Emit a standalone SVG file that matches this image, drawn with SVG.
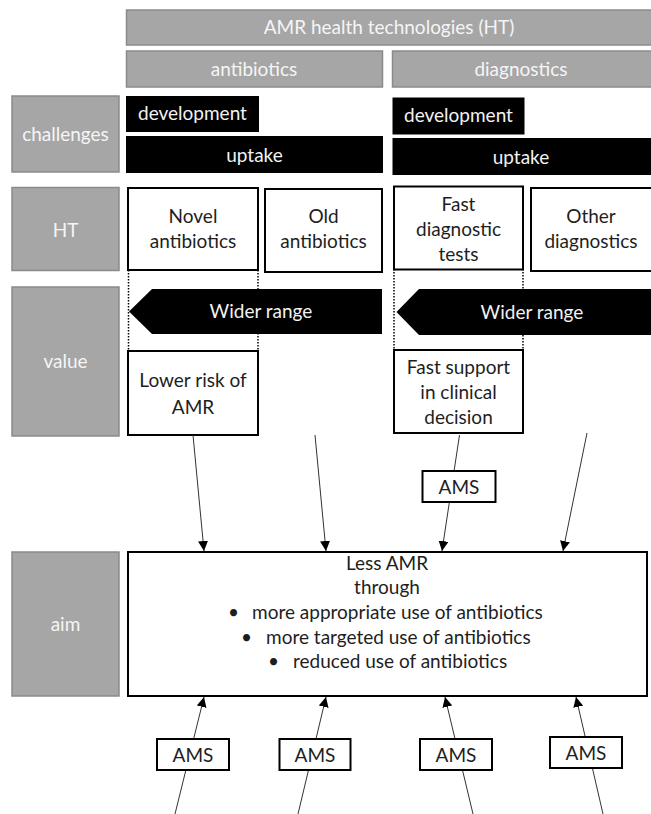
<svg xmlns="http://www.w3.org/2000/svg" width="651" height="814" viewBox="0 0 651 814">
  <defs>
    <style>
      text { font-family: Lato, "Open Sans", "Liberation Sans", sans-serif; font-size: 19px; text-anchor: middle; }
      .lbl { fill: #a6a6a6; stroke: #8a8a8a; stroke-width: 1.5; }
      .lbl-t { fill: #f5f5f5; }
      .blk { fill: #000; }
      .blk-t { fill: #f2f2f2; }
      .box { fill: #fff; stroke: #000; stroke-width: 2; }
      .box-t { fill: #1e1e1e; }
      .dot { stroke: #000; stroke-width: 1.5; stroke-dasharray: 1.5 1.5; fill: none; }
      .link { stroke: #333; stroke-width: 1; fill: none; marker-end: url(#head); }
    </style>
    <marker id="head" viewBox="0 0 10 10" refX="10" refY="5" markerWidth="10" markerHeight="10" markerUnits="userSpaceOnUse" orient="auto">
      <path d="M0,0 L10,5 L0,10 Z" fill="#000"/>
    </marker>
  </defs>

  <rect width="651" height="814" fill="#fff"/>

  <!-- column headers -->
  <g id="header-ht">
    <rect class="lbl" x="126.5" y="10" width="526" height="35"/>
    <text class="lbl-t" x="389" y="34">AMR health technologies (HT)</text>
  </g>
  <g id="header-antibiotics">
    <rect class="lbl" x="126.5" y="51" width="256" height="36"/>
    <text class="lbl-t" x="254" y="76">antibiotics</text>
  </g>
  <g id="header-diagnostics">
    <rect class="lbl" x="392.5" y="51" width="260" height="36"/>
    <text class="lbl-t" x="521" y="76">diagnostics</text>
  </g>

  <!-- row labels -->
  <g id="row-challenges">
    <rect class="lbl" x="12" y="96" width="107" height="76"/>
    <text class="lbl-t" x="65.5" y="141">challenges</text>
  </g>
  <g id="row-ht">
    <rect class="lbl" x="12" y="187.5" width="107" height="83"/>
    <text class="lbl-t" x="65.5" y="237">HT</text>
  </g>
  <g id="row-value">
    <rect class="lbl" x="12" y="287" width="107" height="149"/>
    <text class="lbl-t" x="65.5" y="368">value</text>
  </g>
  <g id="row-aim">
    <rect class="lbl" x="12" y="552" width="107" height="144"/>
    <text class="lbl-t" x="65.5" y="631">aim</text>
  </g>

  <!-- challenges -->
  <g id="ab-development">
    <rect class="blk" x="126" y="96" width="133" height="36"/>
    <text class="blk-t" x="192.5" y="120">development</text>
  </g>
  <g id="ab-uptake">
    <rect class="blk" x="126" y="136" width="257" height="37"/>
    <text class="blk-t" x="254.5" y="162">uptake</text>
  </g>
  <g id="dx-development">
    <rect class="blk" x="392.5" y="97.5" width="132" height="37"/>
    <text class="blk-t" x="458.5" y="122">development</text>
  </g>
  <g id="dx-uptake">
    <rect class="blk" x="392.5" y="138" width="259" height="37"/>
    <text class="blk-t" x="521" y="164">uptake</text>
  </g>

  <!-- health technologies -->
  <g id="novel-antibiotics">
    <rect class="box" x="128" y="188" width="130" height="82"/>
    <text class="box-t" x="193" y="223">Novel</text>
    <text class="box-t" x="193" y="248">antibiotics</text>
  </g>
  <g id="old-antibiotics">
    <rect class="box" x="265" y="189" width="117" height="83"/>
    <text class="box-t" x="323.5" y="223">Old</text>
    <text class="box-t" x="323.5" y="248">antibiotics</text>
  </g>
  <g id="fast-diagnostic-tests">
    <rect class="box" x="394" y="186.5" width="129" height="83"/>
    <text class="box-t" x="458.5" y="211">Fast</text>
    <text class="box-t" x="458.5" y="236">diagnostic</text>
    <text class="box-t" x="458.5" y="261">tests</text>
  </g>
  <g id="other-diagnostics">
    <rect class="box" x="531" y="188" width="122" height="83"/>
    <text class="box-t" x="591" y="223">Other</text>
    <text class="box-t" x="591" y="248">diagnostics</text>
  </g>

  <!-- value -->
  <g id="ab-range">
    <line class="dot" x1="128.5" y1="270" x2="128.5" y2="351"/>
    <line class="dot" x1="258" y1="270" x2="258" y2="351"/>
    <polygon class="blk" points="382,289 152,289 129,311.5 152,334 382,334"/>
    <text class="blk-t" x="261" y="318">Wider range</text>
  </g>
  <g id="dx-range">
    <line class="dot" x1="394" y1="269" x2="394" y2="350"/>
    <line class="dot" x1="523" y1="269" x2="523" y2="350"/>
    <polygon class="blk" points="651,289 419,289 396.5,312 419,335 651,335"/>
    <text class="blk-t" x="532" y="319">Wider range</text>
  </g>
  <g id="lower-risk">
    <rect class="box" x="128" y="351" width="130" height="84"/>
    <text class="box-t" x="193" y="387">Lower risk of</text>
    <text class="box-t" x="193" y="414">AMR</text>
  </g>
  <g id="fast-support">
    <rect class="box" x="394" y="350" width="129" height="83"/>
    <text class="box-t" x="458.5" y="374">Fast support</text>
    <text class="box-t" x="458.5" y="399">in clinical</text>
    <text class="box-t" x="458.5" y="424">decision</text>
  </g>

  <!-- aim -->
  <g id="aim">
    <rect class="box" x="128" y="552" width="519" height="144"/>
    <text class="box-t" x="387" y="570">Less AMR</text>
    <text class="box-t" x="387" y="594">through</text>
    <text class="box-t" x="228" y="619" style="text-anchor:start">•</text>
    <text class="box-t" x="252" y="619" style="text-anchor:start">more appropriate use of antibiotics</text>
    <text class="box-t" x="241" y="644" style="text-anchor:start">•</text>
    <text class="box-t" x="266" y="644" style="text-anchor:start">more targeted use of antibiotics</text>
    <text class="box-t" x="268" y="668" style="text-anchor:start">•</text>
    <text class="box-t" x="293" y="668" style="text-anchor:start">reduced use of antibiotics</text>
  </g>

  <!-- connectors -->
  <g id="connectors">
    <line class="link" x1="193" y1="435" x2="204" y2="551"/>
    <line class="link" x1="315" y1="435" x2="326" y2="551"/>
    <line class="link" x1="459.5" y1="435" x2="442" y2="551"/>
    <line class="link" x1="587" y1="433" x2="563" y2="551"/>
    <line class="link" x1="175" y1="814" x2="204" y2="697"/>
    <line class="link" x1="298" y1="814" x2="326" y2="697"/>
    <line class="link" x1="473" y1="814" x2="445" y2="697"/>
    <line class="link" x1="603" y1="814" x2="576" y2="697"/>
  </g>

  <!-- stewardship labels on the connectors -->
  <g id="ams-top">
    <rect class="box" x="422.5" y="471" width="73" height="31"/>
    <text class="box-t" x="459" y="494">AMS</text>
  </g>
  <g id="ams-1">
    <rect class="box" x="157" y="739" width="72" height="31"/>
    <text class="box-t" x="193" y="762">AMS</text>
  </g>
  <g id="ams-2">
    <rect class="box" x="279.5" y="739" width="71" height="31"/>
    <text class="box-t" x="315" y="762">AMS</text>
  </g>
  <g id="ams-3">
    <rect class="box" x="420" y="739" width="72" height="31"/>
    <text class="box-t" x="456" y="762">AMS</text>
  </g>
  <g id="ams-4">
    <rect class="box" x="550" y="737" width="72" height="31"/>
    <text class="box-t" x="586" y="760">AMS</text>
  </g>
</svg>
